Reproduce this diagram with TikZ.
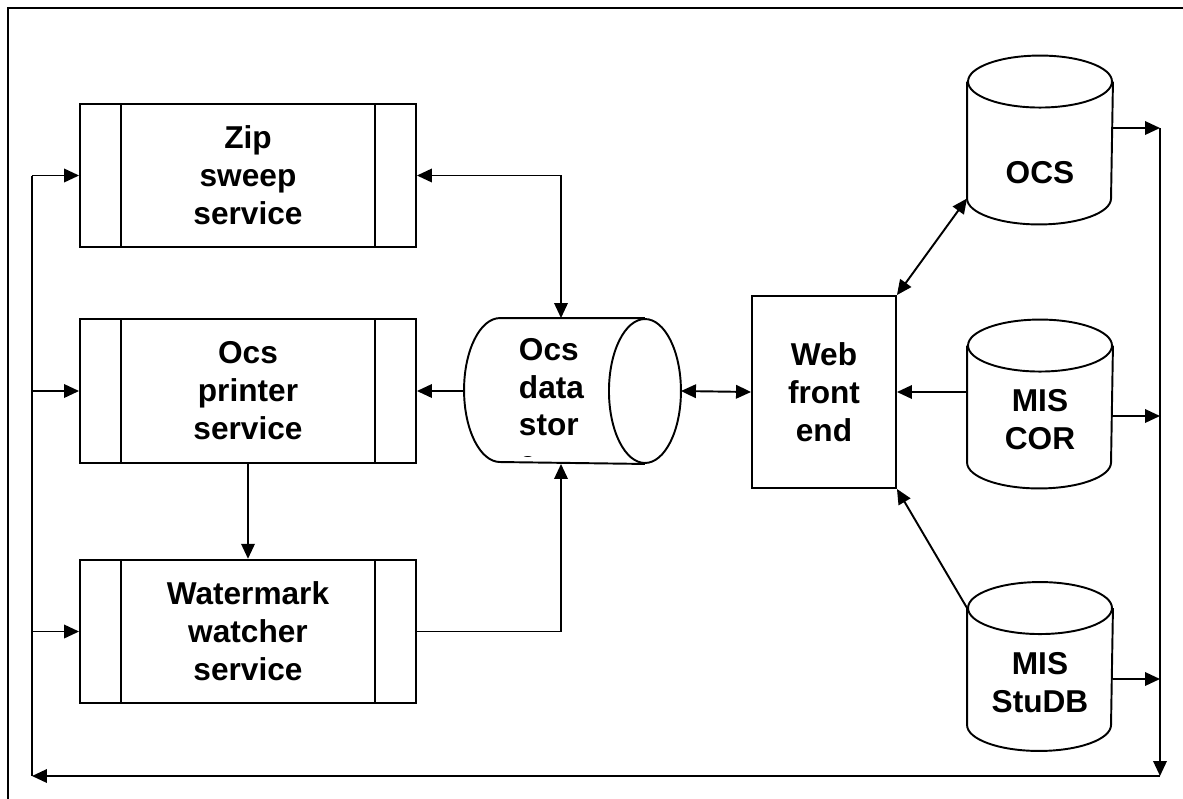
\documentclass[tikz,border=0pt]{standalone}
\usepackage{fontspec}
\setmainfont{Liberation Sans}
\usepackage{tikz}
\usetikzlibrary{arrows.meta,positioning}
\tikzstyle{arrow} = [-{Triangle[length=0.3cm,width=0.27cm]}]
\tikzstyle{twoway} = [{Triangle[length=0.3cm,width=0.27cm]}-{Triangle[length=0.3cm,width=0.27cm]}]
\tikzstyle{service} = [rectangle, draw, minimum width=6.72cm, minimum height=2.87cm, align=center,
  path picture={
    \draw ([xshift=0.82cm]path picture bounding box.north west) -- ([xshift=0.82cm]path picture bounding box.south west);
    \draw ([xshift=-0.82cm]path picture bounding box.north east) -- ([xshift=-0.82cm]path picture bounding box.south east);
  }]
\tikzstyle{database} = [rectangle, minimum width=2.88cm, minimum height=3.34cm, inner sep=0pt]
\tikzstyle{store} = [rectangle, minimum width=4.3cm, minimum height=2.88cm, inner sep=0pt]
\tikzstyle{frontend} = [rectangle, draw, minimum width=2.88cm, minimum height=3.84cm, align=center]
\tikzstyle{dblabel} = [align=center, yshift=-0.32cm]

% upright cylinder round a database node
\newcommand{\drawdb}[1]{%
  \draw ([yshift=-0.52cm]#1.north) ellipse [x radius=1.44cm, y radius=0.52cm];
  \draw ([yshift=-0.52cm]#1.north west) -- ([yshift=0.52cm]#1.south west)
    arc [start angle=180, end angle=360, x radius=1.44cm, y radius=0.52cm]
    -- ([yshift=-0.52cm]#1.north east);
}
% lying cylinder round the data store
\newcommand{\drawstore}[1]{%
  \draw ([xshift=-0.72cm]#1.east) ellipse [x radius=0.72cm, y radius=1.44cm];
  \draw ([xshift=-0.72cm]#1.north east) -- ([xshift=0.72cm]#1.north west)
    arc [start angle=90, end angle=270, x radius=0.72cm, y radius=1.44cm]
    -- ([xshift=-0.72cm]#1.south east);
}

\begin{document}
\begin{tikzpicture}[x=0.02cm, y=-0.02cm, line width=1.1pt, font=\bfseries\fontsize{18}{21.6}\selectfont]
\useasboundingbox (0,0) rectangle (1183,798);
\draw (8,8) rectangle (1200,820);

% services on the left
\node[service] (zip) at (248,175.5) {Zip\\sweep\\service};
\node[service] (printer) at (248,391) {Ocs\\printer\\service};
\node[service] (water) at (248,631.5) {Watermark\\watcher\\service};

% data store in the middle
\node[store] (store) at (572.5,391) {};
\drawstore{store}
\begin{scope}
\clip (store.north west) rectangle ([yshift=0.14cm]store.south east);
\node[anchor=north west, inner sep=0pt, align=left] (storetext) at (518,337) {Ocs\\data\\stor\\e};
\end{scope}

\node[frontend] (web) at (824,392) {Web\\front\\end};

% databases on the right
\node[database, label={[dblabel, yshift=-0.34cm]center:OCS}] (ocs) at (1040,140) {};
\node[database, label={[dblabel]center:MIS\\COR}] (cor) at (1040,404) {};
\node[database, label={[dblabel]center:MIS\\StuDB}] (studb) at (1040,666.5) {};
\drawdb{ocs}
\drawdb{cor}
\drawdb{studb}

% bus round the outside
\coordinate (bustop) at (1160,128);
\coordinate (buscorner) at (1160,776);
\coordinate (busleft) at (32,776);
\coordinate (ocsout) at ([yshift=0.24cm]ocs.east);
\coordinate (corout) at ([yshift=-0.24cm]cor.east);
\coordinate (studbout) at ([yshift=-0.25cm]studb.east);

\draw[twoway] (zip.east) -| ([xshift=-0.23cm]store.north);
\draw[arrow] (store.west) -- (printer.east);
\draw[arrow] (printer.south) -- (water.north);
\draw[arrow] (water.east) -| ([xshift=-0.23cm]store.south);
\draw[twoway] (store.east) -- (web.west);

\draw[twoway] ([yshift=0.52cm]ocs.south west) -- (web.north east);
\draw[arrow] (cor.west |- web.east) -- (web.east);
\draw[arrow] ([yshift=-0.52cm]studb.north west) -- (web.south east);

\draw[arrow] (ocsout) -- (bustop |- ocsout);
\draw[arrow] (corout) -- (bustop |- corout);
\draw[arrow] (studbout) -- (bustop |- studbout);
\draw[arrow] (bustop) -- (buscorner);
\draw[arrow] (buscorner) -- (busleft);
\draw (busleft) -- (busleft |- zip.west);
\draw[arrow] (busleft |- zip.west) -- (zip.west);
\draw[arrow] (busleft |- printer.west) -- (printer.west);
\draw[arrow] (busleft |- water.west) -- (water.west);
\end{tikzpicture}
\end{document}
